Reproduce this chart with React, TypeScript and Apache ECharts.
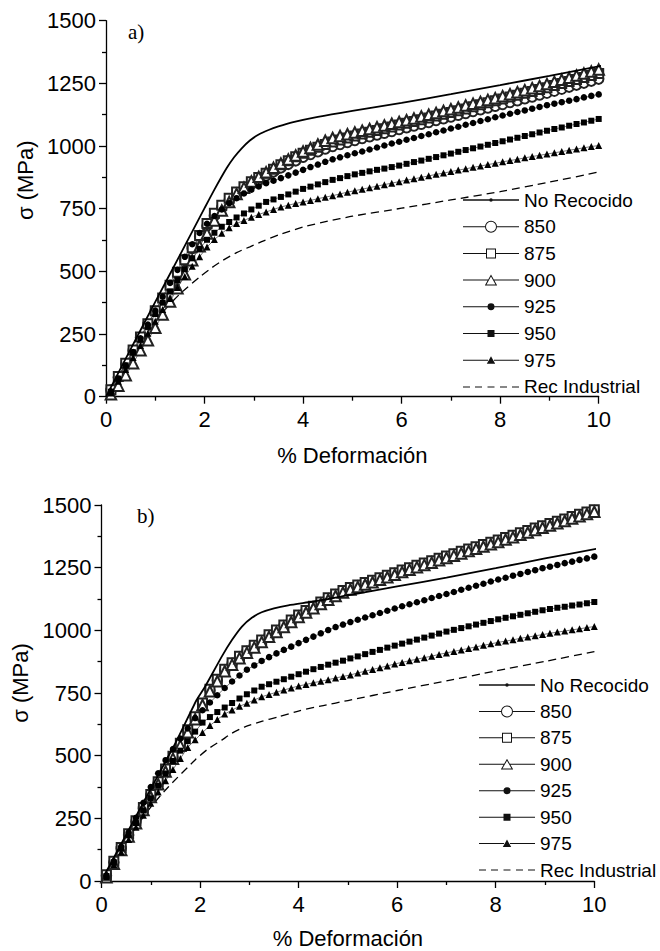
import React, { useEffect, useRef } from "react";
import * as echarts from "echarts";

// strain (%) at which the marker series were sampled
const strain = [0.1, 0.25, 0.4, 0.55, 0.7, 0.85, 1.0, 1.15, 1.3, 1.45, 1.6, 1.75, 1.9, 2.05, 2.2, 2.35, 2.5, 2.65, 2.8, 2.95, 3.1, 3.25, 3.4, 3.55, 3.7, 3.85, 4.0, 4.15, 4.3, 4.45, 4.6, 4.75, 4.9, 5.05, 5.2, 5.35, 5.5, 5.65, 5.8, 5.95, 6.1, 6.25, 6.4, 6.55, 6.7, 6.85, 7.0, 7.15, 7.3, 7.45, 7.6, 7.75, 7.9, 8.05, 8.2, 8.35, 8.5, 8.65, 8.8, 8.95, 9.1, 9.25, 9.4, 9.55, 9.7, 9.85, 10.0];

// ---- panel a) ----
const aNoRecX = [0, 0.5, 1, 1.5, 2, 2.2, 2.45, 2.6, 2.75, 2.92, 3.1, 3.3, 3.5, 3.8, 4.3, 5, 6, 7, 8, 9, 10.05];
const aNoRecY = [0, 190, 378, 565, 752, 826, 912, 955, 990, 1022, 1046, 1064, 1078, 1095, 1116, 1140, 1172, 1207, 1243, 1280, 1320];
const aRecX = [0, 0.5, 1, 1.23, 1.5, 1.91, 2.15, 2.38, 2.65, 2.92, 3.2, 3.5, 4, 4.5, 5, 6, 7, 8, 9, 10, 10.53];
const aRecY = [0, 160, 300, 355, 410, 479, 515, 545, 575, 598, 622, 645, 677, 700, 720, 752, 785, 818, 856, 897, 930];
const a850 = [25, 78, 130, 183, 235, 288, 340, 391, 442, 493, 543, 591, 640, 681, 722, 754, 782, 807, 828, 848, 864, 881, 897, 913, 927, 941, 955, 966, 977, 988, 998, 1006, 1014, 1022, 1030, 1037, 1044, 1051, 1058, 1066, 1073, 1080, 1087, 1094, 1102, 1109, 1116, 1123, 1130, 1138, 1145, 1152, 1159, 1166, 1174, 1181, 1189, 1196, 1204, 1211, 1219, 1227, 1235, 1243, 1251, 1259, 1267];
const a875 = [28, 81, 133, 186, 238, 291, 343, 394, 445, 496, 546, 594, 643, 691, 732, 764, 792, 817, 838, 858, 874, 891, 907, 925, 941, 957, 971, 983, 995, 1006, 1016, 1024, 1032, 1040, 1048, 1055, 1062, 1069, 1076, 1084, 1091, 1098, 1105, 1112, 1120, 1127, 1134, 1141, 1148, 1157, 1165, 1173, 1181, 1188, 1196, 1203, 1211, 1218, 1226, 1233, 1241, 1249, 1257, 1265, 1273, 1281, 1289];
const a900 = [10, 44, 86, 133, 185, 225, 275, 328, 380, 433, 488, 544, 600, 651, 703, 743, 777, 809, 834, 859, 877, 895, 913, 930, 946, 962, 978, 992, 1006, 1021, 1032, 1040, 1047, 1054, 1061, 1068, 1075, 1082, 1089, 1096, 1103, 1110, 1118, 1125, 1132, 1140, 1147, 1154, 1162, 1169, 1176, 1184, 1191, 1199, 1207, 1215, 1223, 1231, 1239, 1247, 1256, 1264, 1272, 1281, 1289, 1297, 1305];
const a925 = [20, 72, 124, 178, 233, 288, 344, 399, 454, 506, 558, 608, 653, 690, 721, 747, 772, 792, 811, 826, 839, 852, 862, 872, 883, 894, 905, 916, 926, 937, 947, 955, 963, 971, 978, 986, 994, 1002, 1010, 1017, 1025, 1032, 1040, 1047, 1055, 1062, 1070, 1077, 1085, 1092, 1100, 1107, 1115, 1122, 1129, 1136, 1142, 1149, 1156, 1163, 1169, 1175, 1181, 1187, 1194, 1200, 1206];
const a950 = [20, 72, 125, 177, 228, 279, 330, 375, 420, 465, 509, 552, 590, 626, 654, 678, 697, 715, 731, 747, 762, 777, 787, 797, 807, 818, 829, 838, 847, 856, 865, 872, 880, 887, 893, 899, 905, 910, 916, 922, 929, 936, 942, 949, 956, 963, 970, 977, 984, 991, 998, 1005, 1012, 1019, 1026, 1033, 1040, 1047, 1054, 1061, 1068, 1074, 1081, 1088, 1094, 1101, 1108];
const a975 = [15, 62, 109, 156, 204, 253, 301, 348, 392, 436, 480, 520, 558, 597, 627, 652, 674, 691, 703, 716, 727, 737, 747, 757, 764, 771, 777, 783, 790, 796, 802, 809, 816, 822, 828, 834, 840, 846, 852, 858, 864, 869, 875, 881, 887, 892, 898, 904, 909, 915, 920, 926, 931, 937, 942, 947, 953, 958, 963, 968, 973, 978, 983, 988, 993, 998, 1002];

// ---- panel b) ----
const bNoRecX = [0.05, 0.5, 1, 1.5, 1.93, 2.1, 2.44, 2.65, 2.85, 3.05, 3.25, 3.5, 3.79, 4.27, 4.6, 5, 6, 7, 8, 9, 10.1];
const bNoRecY = [20, 185, 368, 550, 722, 775, 895, 962, 1015, 1050, 1072, 1088, 1100, 1114, 1125, 1140, 1175, 1210, 1248, 1287, 1327];
const bRecX = [0.05, 0.5, 1, 1.36, 1.9, 2.15, 2.44, 2.65, 2.91, 3.25, 3.59, 4.03, 4.5, 5, 6, 7, 8, 9, 10, 10.52];
const bRecY = [15, 160, 295, 376, 483, 525, 562, 590, 615, 637, 655, 680, 700, 720, 760, 798, 838, 876, 915, 934];
const b850 = [21, 75, 130, 184, 236, 289, 341, 392, 443, 494, 546, 599, 651, 706, 761, 801, 841, 867, 893, 915, 936, 957, 978, 997, 1017, 1037, 1057, 1075, 1092, 1109, 1126, 1141, 1155, 1167, 1177, 1187, 1196, 1206, 1216, 1226, 1237, 1246, 1256, 1265, 1274, 1284, 1293, 1302, 1311, 1320, 1329, 1338, 1347, 1356, 1366, 1375, 1385, 1394, 1404, 1413, 1422, 1431, 1440, 1450, 1459, 1468, 1477];
const b875 = [25, 79, 134, 188, 240, 293, 345, 396, 447, 498, 550, 603, 655, 710, 765, 805, 845, 871, 897, 919, 940, 961, 982, 1001, 1021, 1041, 1061, 1079, 1096, 1113, 1130, 1145, 1159, 1171, 1181, 1191, 1200, 1210, 1220, 1230, 1241, 1250, 1260, 1269, 1278, 1288, 1297, 1306, 1315, 1324, 1333, 1342, 1351, 1360, 1370, 1379, 1389, 1398, 1408, 1417, 1426, 1435, 1444, 1454, 1463, 1472, 1481];
const b900 = [15, 69, 124, 178, 230, 283, 335, 386, 437, 488, 540, 593, 645, 702, 757, 797, 837, 863, 889, 911, 932, 953, 974, 993, 1013, 1033, 1053, 1071, 1088, 1105, 1122, 1137, 1151, 1163, 1173, 1183, 1192, 1202, 1212, 1222, 1233, 1242, 1252, 1261, 1270, 1280, 1289, 1298, 1307, 1316, 1325, 1334, 1343, 1352, 1362, 1371, 1381, 1390, 1400, 1409, 1418, 1427, 1436, 1446, 1455, 1464, 1473];
const b925 = [22, 79, 137, 194, 252, 312, 375, 430, 482, 526, 568, 609, 650, 681, 712, 741, 770, 796, 820, 843, 860, 878, 893, 908, 922, 935, 949, 962, 975, 988, 1001, 1013, 1023, 1033, 1042, 1051, 1060, 1069, 1078, 1087, 1096, 1104, 1112, 1120, 1129, 1137, 1145, 1153, 1162, 1170, 1178, 1186, 1195, 1203, 1210, 1218, 1225, 1233, 1240, 1248, 1254, 1261, 1268, 1274, 1281, 1287, 1294];
const b950 = [20, 74, 129, 182, 231, 281, 330, 380, 429, 479, 520, 558, 596, 632, 654, 674, 692, 710, 728, 745, 760, 775, 785, 795, 805, 815, 825, 835, 845, 854, 863, 871, 879, 888, 896, 905, 914, 922, 931, 939, 947, 955, 963, 971, 979, 987, 995, 1002, 1009, 1016, 1023, 1030, 1037, 1044, 1050, 1056, 1062, 1068, 1074, 1080, 1085, 1090, 1094, 1099, 1103, 1108, 1113];
const b975 = [15, 66, 116, 166, 214, 262, 310, 355, 400, 445, 489, 533, 563, 592, 620, 644, 666, 682, 697, 709, 722, 735, 744, 753, 762, 770, 778, 784, 791, 797, 803, 810, 816, 822, 830, 837, 844, 851, 858, 866, 872, 879, 885, 891, 897, 904, 910, 916, 922, 928, 934, 940, 946, 952, 957, 962, 968, 973, 978, 983, 988, 993, 997, 1002, 1006, 1011, 1015];

const seriesNames = ["No Recocido", "850", "875", "900", "925", "950", "975", "Rec Industrial"];
const panelLabels = ["a)", "b)"];
const xName = "% Deformación";
const yName = "σ (MPa)";

const FONT = '"Liberation Sans", Arial, Helvetica, sans-serif';
const SERIF = '"Liberation Serif", "Times New Roman", serif';

const SPECK = "M0,0h0.01v0.01h-0.01z M56,14h-0.01v-0.01h0.01z ";
const SIDE = "M0,6.5h25v1h-25z M31,6.5h25v1h-25z ";
const legendIcons: Record<string, string> = {
  "No Recocido": SPECK + "M0,6.3h56v1.4h-56z M26.2,7a1.8,1.8 0 1,1 3.6,0a1.8,1.8 0 1,1 -3.6,0z",
  "850": SPECK + "M0,6.5h22v1h-22z M34,6.5h22v1h-22z M22,7a6,6 0 1,1 12,0a6,6 0 1,1 -12,0z M23,7a5,5 0 1,0 10,0a5,5 0 1,0 -10,0z",
  "875": SPECK + "M0,6.5h23v1h-23z M33,6.5h23v1h-23z M23,2h10v10h-10z M24,3v8h8v-8z",
  "900": SPECK + SIDE + "M28,1.5L34.2,12.3L21.8,12.3z M28,3.5L23.52,11.3L32.48,11.3z",
  "925": SPECK + SIDE + "M24.5,7a3.5,3.5 0 1,1 7,0a3.5,3.5 0 1,1 -7,0z",
  "950": SPECK + SIDE + "M24.5,3.5h7v7h-7z",
  "975": SPECK + SIDE + "M28,3L32.2,10.5L23.8,10.5z",
  "Rec Industrial": SPECK + "M0,6.5h7v1h-7z M12,6.5h7v1h-7z M24.5,6.5h7v1h-7z M37,6.5h7v1h-7z M49,6.5h7v1h-7z",
};

const pair = (xs: number[], ys: number[]) => xs.map((x, i) => [x, ys[i]]);

const markerStyle: Record<string, { symbol: string; size: number; empty: boolean }> = {
  "850": { symbol: "emptyCircle", size: 9.5, empty: true },
  "875": { symbol: "emptyRect", size: 9, empty: true },
  "900": { symbol: "emptyTriangle", size: 10.5, empty: true },
  "925": { symbol: "circle", size: 6.5, empty: false },
  "950": { symbol: "rect", size: 6, empty: false },
  "975": { symbol: "triangle", size: 7, empty: false },
};

function panelSeries(idx: number, noRec: number[][], rec: number[][], markers: Record<string, number[]>) {
  const out: any[] = [];
  out.push({
    name: "No Recocido", type: "line", xAxisIndex: idx, yAxisIndex: idx, data: noRec,
    showSymbol: false, symbol: "circle", symbolSize: 3, smooth: 0.2, clip: false, z: 4,
    lineStyle: { color: "#000", width: 1.8 }, itemStyle: { color: "#000" },
  });
  ["850", "875", "900", "925", "950", "975"].forEach((n) => {
    const m = markerStyle[n];
    out.push({
      name: n, type: "line", xAxisIndex: idx, yAxisIndex: idx, data: pair(strain, markers[n]),
      symbol: m.symbol, symbolSize: m.size, showSymbol: true, showAllSymbol: true,
      lineStyle: { color: "#555", width: 0.8 },
      itemStyle: m.empty ? { color: "#222", borderColor: "#222", borderWidth: 1 } : { color: "#000", borderWidth: 0 },
      z: 3,
    });
  });
  out.push({
    name: "Rec Industrial", type: "line", xAxisIndex: idx, yAxisIndex: idx, data: rec,
    showSymbol: false, symbol: "circle", symbolSize: 3, smooth: 0.2, clip: false, z: 2,
    lineStyle: { color: "#000", width: 1.3, type: [8, 5] }, itemStyle: { color: "#000" },
  });
  return out;
}

function xAxisCfg(gridIndex: number, nameGap: number) {
  return {
    type: "value", gridIndex, min: 0, max: 10, interval: 2,
    name: xName, nameLocation: "middle", nameGap,
    nameTextStyle: { fontSize: 22, fontFamily: FONT, color: "#000" },
    axisLine: { show: true, onZero: false, lineStyle: { color: "#000", width: 1.3 } },
    axisTick: { show: true, inside: false, length: 7, lineStyle: { color: "#000", width: 1.3 } },
    minorTick: { show: true, splitNumber: 2, length: 4, lineStyle: { color: "#000", width: 1.3 } },
    splitLine: { show: false },
    axisLabel: { fontSize: 22, fontFamily: FONT, color: "#000", margin: 12, formatter: (v: number) => String(v) },
  };
}

function yAxisCfg(gridIndex: number, nameGap: number, padLeft: number) {
  return {
    type: "value", gridIndex, min: 0, max: 1500, interval: 250,
    name: yName, nameLocation: "middle", nameGap,
    nameTextStyle: { fontSize: 22, fontFamily: FONT, color: "#000", padding: [0, 0, 0, padLeft] },
    axisLine: { show: true, onZero: false, lineStyle: { color: "#000", width: 1.3 } },
    axisTick: { show: true, inside: false, length: 7, lineStyle: { color: "#000", width: 1.3 } },
    minorTick: { show: true, splitNumber: 2, length: 4, lineStyle: { color: "#000", width: 1.3 } },
    splitLine: { show: false },
    axisLabel: { fontSize: 22, fontFamily: FONT, color: "#000", margin: 10, formatter: (v: number) => String(v) },
  };
}

function legendCfg(left: number, top: number, gap: number) {
  return {
    orient: "vertical", left, top, padding: 0, itemWidth: 56, itemHeight: 14, itemGap: gap,
    selectedMode: false,
    itemStyle: { color: "#111", borderWidth: 0 },
    textStyle: { fontSize: 19, lineHeight: 20, fontFamily: FONT, color: "#000" },
    data: seriesNames.map((n) => ({ name: n, icon: "path://" + legendIcons[n] })),
  };
}

const option: any = {
  animation: false,
  backgroundColor: "#fff",
  textStyle: { fontFamily: FONT },
  grid: [
    { left: 106, top: 20.7, width: 492.7, height: 376 },
    { left: 101.5, top: 505, width: 492.8, height: 376 },
  ],
  xAxis: [xAxisCfg(0, 48), xAxisCfg(1, 46)],
  yAxis: [yAxisCfg(0, 69, 57), yAxisCfg(1, 66, 20)],
  legend: [legendCfg(463, 190, 6.7), legendCfg(479, 675, 6.43)],
  graphic: [
    { type: "text", left: 128, top: 21, style: { text: panelLabels[0], fontSize: 21, fontFamily: SERIF, fill: "#000" } },
    { type: "text", left: 137, top: 505, style: { text: panelLabels[1], fontSize: 21, fontFamily: SERIF, fill: "#000" } },
  ],
  series: [
    ...panelSeries(0, pair(aNoRecX, aNoRecY), pair(aRecX, aRecY), { "850": a850, "875": a875, "900": a900, "925": a925, "950": a950, "975": a975 }),
    ...panelSeries(1, pair(bNoRecX, bNoRecY), pair(bRecX, bRecY), { "850": b850, "875": b875, "900": b900, "925": b925, "950": b950, "975": b975 }),
  ],
};

export default function App() {
  const ref = useRef<HTMLDivElement>(null);
  useEffect(() => {
    if (!ref.current) return;
    const chart = echarts.init(ref.current, null, { renderer: "svg" });
    chart.setOption(option);
    return () => chart.dispose();
  }, []);
  return (
    <div
      ref={ref}
      style={{ position: "fixed", left: 0, top: 0, width: 660, height: 951, background: "#fff" }}
    />
  );
}
